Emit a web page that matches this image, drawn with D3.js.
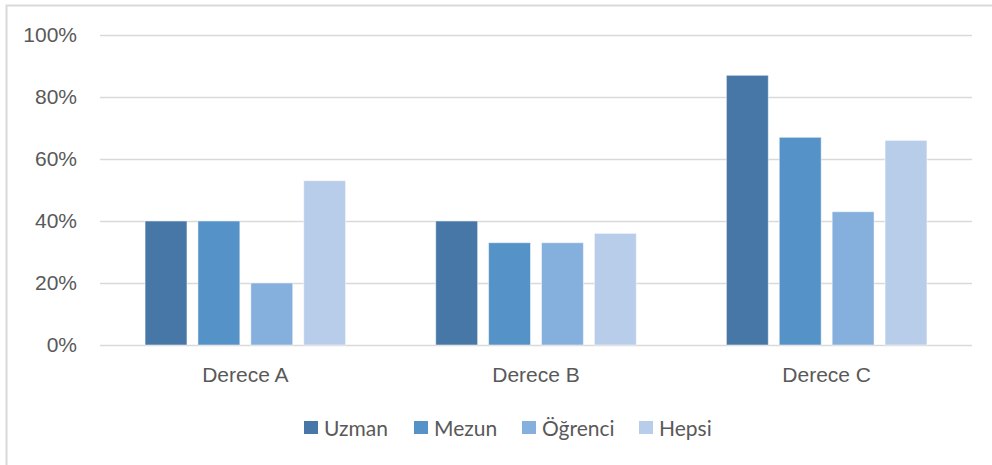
<!DOCTYPE html>
<html>
<head>
<meta charset="utf-8">
<script src="https://cdn.jsdelivr.net/npm/d3@7"></script>
<style>
  body { margin: 0; background: #fff; }
  svg { display: block; font-family: Lato, "Open Sans", sans-serif; }
  .axis text { fill: #595959; font-size: 21px; }
</style>
</head>
<body>
<svg id="chart" width="992" height="465"></svg>
<script>
// categories, series and values
const categories = ['Derece A', 'Derece B', 'Derece C'];
const series = ['Uzman', 'Mezun', 'Öğrenci', 'Hepsi'];
const uzman   = [0.40, 0.40, 0.87];
const mezun   = [0.40, 0.33, 0.67];
const ogrenci = [0.20, 0.33, 0.43];
const hepsi   = [0.53, 0.36, 0.66];
const yTicks = [0, 0.2, 0.4, 0.6, 0.8, 1.0];

const colors = ['#4677a7', '#5592c8', '#85afdc', '#b8cde9'];
const values = [uzman, mezun, ogrenci, hepsi];

const svg = d3.select('#chart');

// outer frame (only top and left edges are visible in the crop)
svg.append('path')
  .attr('d', 'M6.5,465 L6.5,5.5 L992,5.5')
  .attr('fill', 'none')
  .attr('stroke', '#d9d9d9')
  .attr('stroke-width', 2);

const plotLeft = 100, plotRight = 972, plotTop = 35, plotBottom = 345;

const x0 = d3.scaleBand().domain(categories).range([plotLeft, plotRight]);
const x1 = d3.scaleBand().domain(series)
  .range([0, x0.bandwidth()])
  .paddingInner(0.2075)
  .paddingOuter(0.852);
const y = d3.scaleLinear().domain([0, 1]).range([plotBottom, plotTop]);

// gridlines
svg.append('g')
  .selectAll('line')
  .data(yTicks)
  .join('line')
  .attr('x1', plotLeft).attr('x2', plotRight)
  .attr('y1', d => Math.round(y(d)) + 0.5)
  .attr('y2', d => Math.round(y(d)) + 0.5)
  .attr('stroke', '#d9d9d9')
  .attr('stroke-width', 1.5);

// y labels
const yAxis = d3.axisLeft(y)
  .tickValues(yTicks)
  .tickFormat(d3.format('.0%'))
  .tickSize(0)
  .tickPadding(23);
svg.append('g')
  .attr('class', 'axis')
  .attr('transform', 'translate(' + plotLeft + ',0)')
  .call(yAxis)
  .call(g => g.select('.domain').remove());

// x labels
const xAxis = d3.axisBottom(x0).tickSize(0).tickPadding(22);
svg.append('g')
  .attr('class', 'axis')
  .attr('transform', 'translate(0,' + plotBottom + ')')
  .call(xAxis)
  .call(g => g.select('.domain').remove());

// bars
const groups = svg.append('g')
  .selectAll('g')
  .data(categories)
  .join('g')
  .attr('transform', d => 'translate(' + x0(d) + ',0)');

groups.selectAll('rect')
  .data((d, i) => series.map((s, j) => ({ s: s, v: values[j][i], c: colors[j] })))
  .join('rect')
  .attr('x', d => x1(d.s))
  .attr('width', x1.bandwidth())
  .attr('y', d => y(d.v))
  .attr('height', d => y(0) - y(d.v))
  .attr('fill', d => d.c)
  .attr('stroke', '#ffffff')
  .attr('stroke-opacity', 0.5)
  .attr('stroke-width', 1);

// legend
const legendX = [304, 414, 522, 639];
const legend = svg.append('g')
  .selectAll('g')
  .data(series)
  .join('g')
  .attr('transform', (d, i) => 'translate(' + legendX[i] + ',421)');

legend.append('rect')
  .attr('width', 14).attr('height', 13)
  .attr('fill', (d, i) => colors[i]);

legend.append('text')
  .attr('x', 20)
  .attr('y', 15)
  .attr('fill', '#595959')
  .style('font-size', '21px')
  .text(d => d);
</script>
</body>
</html>
